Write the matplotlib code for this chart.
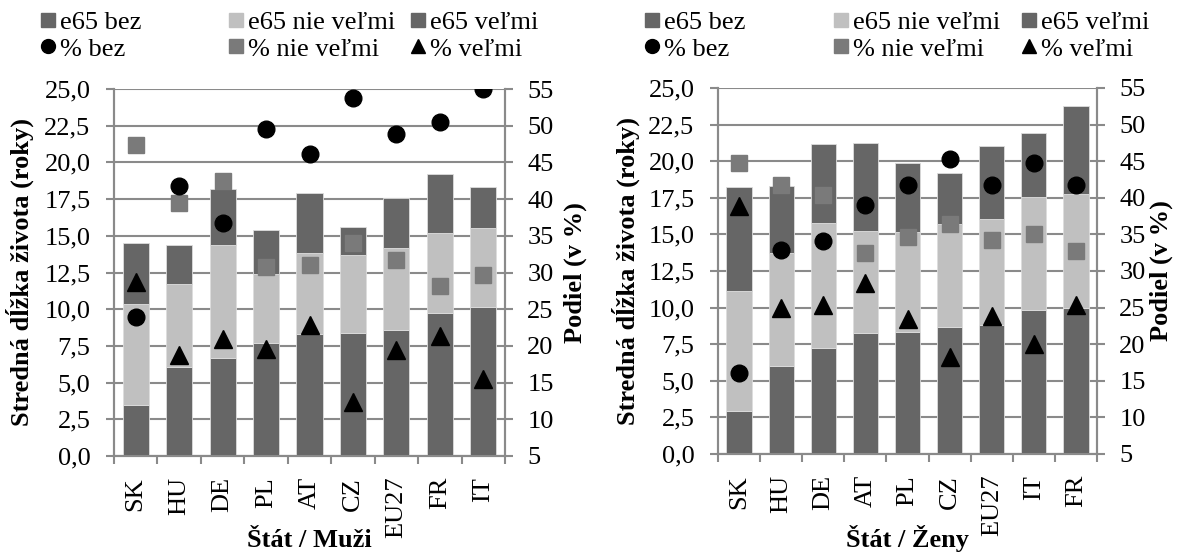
import matplotlib
matplotlib.use("Agg")
import matplotlib.pyplot as plt
from matplotlib.lines import Line2D
from matplotlib.ticker import FuncFormatter, FixedLocator
import numpy as np

plt.rcParams['font.family'] = ['Liberation Serif', 'DejaVu Serif']

# ---- Men ----
men_cat = ["SK", "HU", "DE", "PL", "AT", "CZ", "EU27", "FR", "IT"]
men_e65_bez = [3.5, 6.05, 6.68, 7.68, 8.3, 8.41, 8.59, 9.75, 10.14]
men_e65_nie = [6.84, 5.65, 7.68, 4.73, 5.54, 5.29, 5.55, 5.43, 5.41]
men_e65_velmi = [4.16, 2.66, 3.8, 2.98, 4.06, 1.91, 3.41, 4.05, 2.79]
men_pct_bez = [24.0, 41.8, 36.7, 49.6, 46.1, 53.8, 48.9, 50.5, 55.0]
men_pct_nie = [47.4, 39.5, 42.4, 30.8, 31.0, 34.0, 31.7, 28.2, 29.7]
men_pct_velmi = [28.7, 18.7, 21.0, 19.6, 22.9, 12.3, 19.4, 21.3, 15.5]

# ---- Women ----
wom_cat = ["SK", "HU", "DE", "AT", "PL", "CZ", "EU27", "IT", "FR"]
wom_e65_bez = [2.91, 6.01, 7.24, 8.26, 8.33, 8.7, 8.81, 9.84, 9.95]
wom_e65_nie = [8.22, 7.69, 8.56, 6.95, 6.83, 6.99, 7.22, 7.69, 7.79]
wom_e65_velmi = [7.11, 4.6, 5.37, 6.03, 4.69, 3.48, 4.99, 4.42, 6.03]
wom_pct_bez = [16.1, 32.9, 34.1, 39.0, 41.8, 45.3, 41.8, 44.8, 41.7]
wom_pct_nie = [44.8, 41.8, 40.4, 32.5, 34.6, 36.4, 34.3, 35.0, 32.8]
wom_pct_velmi = [38.9, 25.0, 25.3, 28.3, 23.5, 18.3, 23.8, 20.0, 25.3]

left_ticks = [0, 2.5, 5, 7.5, 10, 12.5, 15, 17.5, 20, 22.5, 25]
right_ticks = [5, 10, 15, 20, 25, 30, 35, 40, 45, 50, 55]

DARK = '#666666'
LIGHT = '#c0c0c0'
SQ = '#7a7a7a'
GRID = '#8a8a8a'
FS = 19
SERIF = {'family': ['Liberation Serif', 'DejaVu Serif'], 'size': FS}

W, H = 1185, 554
fig = plt.figure(figsize=(W / 100, H / 100), dpi=100)


def make_panel(px, cats, bez, nie, velmi, pb, pn, pv, xlabel, leg_x, ylab_l, ylab_r):
    x0, x1, y0, y1 = px  # pixel box: left, right, top, bottom
    ax = fig.add_axes([x0 / W, 1 - y1 / H, (x1 - x0) / W, (y1 - y0) / H])
    ax2 = ax.twinx()
    x = np.arange(len(cats))
    bez = np.array(bez); nie = np.array(nie); velmi = np.array(velmi)
    w = 0.6
    ax.bar(x, bez, w, color=DARK, edgecolor='#dddddd', linewidth=0.6, zorder=3)
    ax.bar(x, nie, w, bottom=bez, color=LIGHT, edgecolor='#dddddd', linewidth=0.6, zorder=3)
    ax.bar(x, velmi, w, bottom=bez + nie, color=DARK, edgecolor='#dddddd', linewidth=0.6, zorder=3)
    ax.set_xlim(-0.5, len(cats) - 0.5)
    ax.set_ylim(0, 25)
    ax.yaxis.set_major_locator(FixedLocator(left_ticks))
    ax.yaxis.set_major_formatter(FuncFormatter(lambda v, p: f"{v:.1f}".replace('.', ',')))
    ax.grid(axis='y', color=GRID, linewidth=1.5, zorder=0)
    ax.set_axisbelow(True)
    ax.set_xticks(x)
    ax.set_xticklabels(cats, rotation=90, fontsize=FS)
    ax.tick_params(axis='x', length=0, pad=15)
    ax.xaxis.set_minor_locator(FixedLocator(np.arange(-0.5, len(cats), 1.0)))
    ax.tick_params(axis='x', which='minor', length=6, width=1.5, color=GRID)
    ax.tick_params(axis='y', labelsize=FS, length=6, width=1.5, color=GRID, pad=11)
    ax.set_ylabel("Stredná dĺžka života (roky)", fontsize=FS, fontweight='bold')
    ax.yaxis.set_label_coords((ylab_l - x0) / (x1 - x0), 0.5)

    ax2.set_ylim(5, 55)
    ax2.yaxis.set_major_locator(FixedLocator(right_ticks))
    ax2.tick_params(axis='y', labelsize=FS, length=6, width=1.5, color=GRID, pad=10)
    ax2.set_ylabel("Podiel (v %)", fontsize=FS, fontweight='bold')
    ax2.yaxis.set_label_coords((ylab_r - x0) / (x1 - x0), 0.5)
    ax2.plot(x, pn, 's', color=SQ, markersize=12, zorder=5, linestyle='none')
    ax2.plot(x, pb, 'o', color='black', markersize=12, zorder=6, linestyle='none')
    ax2.plot(x, pv, '^', color='black', markersize=13, zorder=6, linestyle='none')

    for a in (ax, ax2):
        a.spines['top'].set_visible(False)
        for s in ('left', 'right', 'bottom'):
            a.spines[s].set_color(GRID)
            a.spines[s].set_linewidth(1.5)

    fig.text((x0 + x1) / 2 / W, 2 / H, xlabel, ha='center', va='bottom',
             fontsize=FS, fontweight='bold')

    # legend, three columns placed manually
    cols = [
        [("e65 bez", 's', DARK), ("% bez", 'o', 'black')],
        [("e65 nie veľmi", 's', LIGHT), ("% nie veľmi", 's', SQ)],
        [("e65 veľmi", 's', DARK), ("% veľmi", '^', 'black')],
    ]
    for cx, col in zip(leg_x, cols):
        handles = [Line2D([], [], marker=m, color=c, linestyle='none', markersize=10)
                   for (_, m, c) in col]
        labels = [t for (t, _, _) in col]
        fig.legend(handles, labels, loc='upper left',
                   bbox_to_anchor=(cx / W, 1 - 11 / H), frameon=False,
                   prop=SERIF, handlelength=0.6, handletextpad=0.16,
                   labelspacing=0.1, borderpad=0, borderaxespad=0)
    return ax, ax2


make_panel((114, 505, 89, 456),
           men_cat, men_e65_bez, men_e65_nie, men_e65_velmi,
           men_pct_bez, men_pct_nie, men_pct_velmi, "Štát / Muži",
           [40, 228, 410], 34, 564)
make_panel((718, 1097, 88, 454),
           wom_cat, wom_e65_bez, wom_e65_nie, wom_e65_velmi,
           wom_pct_bez, wom_pct_nie, wom_pct_velmi, "Štát / Ženy",
           [644, 833, 1021], 640, 1150)

fig.savefig("out.png", dpi=100)
